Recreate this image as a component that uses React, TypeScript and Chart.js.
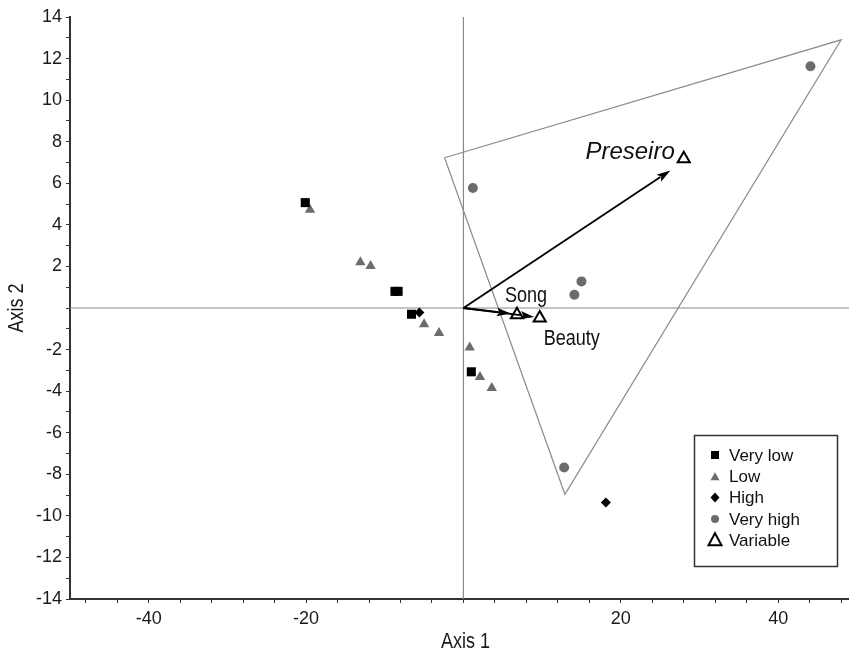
import React, { useEffect, useRef } from 'react';
import { Chart, registerables } from 'chart.js';

Chart.register(...registerables);

// ---------- data ----------
const seriesLabels = ['Very low', 'Low', 'High', 'Very high', 'Variable'];

const veryLowX = [-20.1, -8.7, -8.3, -6.6, 1.0];
const veryLowY = [5.07, 0.8, 0.8, -0.3, -3.07];

const lowX = [-19.5, -13.1, -11.8, -5.0, -3.1, 0.8, 2.1, 3.6];
const lowY = [4.73, 2.2, 2.02, -0.78, -1.2, -1.9, -3.32, -3.85];

const highX = [-5.6, 18.1];
const highY = [-0.22, -9.36];

const veryHighX = [1.2, 14.1, 15.0, 12.8, 44.1];
const veryHighY = [5.77, 0.64, 1.28, -7.67, 11.63];

const variableNames = ['Preseiro', 'Song', 'Beauty'];
const variableX = [28.0, 6.8, 9.7];
const variableY = [7.18, -0.32, -0.48];
const arrowTipX = [26.3, 6.0, 9.0];
const arrowTipY = [6.62, -0.27, -0.43];

const hullX = [-2.4, 48.0, 12.9, -2.4];
const hullY = [7.23, 12.9, -8.96, 7.23];

const xTitle = 'Axis 1';
const yTitle = 'Axis 2';

const xMin = -50;
const xMax = 49;
const yMin = -14;
const yMax = 14;

const xTickValues = [-48, -44, -40, -36, -32, -28, -24, -20, -16, -12, -8, -4, 0, 4, 8, 12, 16, 20, 24, 28, 32, 36, 40, 44, 48];
const xTickLabels = [-40, -20, 20, 40];
const yTickValues = [-14, -13, -12, -11, -10, -9, -8, -7, -6, -5, -4, -3, -2, -1, 0, 1, 2, 3, 4, 5, 6, 7, 8, 9, 10, 11, 12, 13, 14];
const yTickLabels = [14, 12, 10, 8, 6, 4, 2, -2, -4, -6, -8, -10, -12, -14];

// ---------- styles ----------
const SANS = "'Liberation Sans', Arial, sans-serif";
const GREY = '#6c6c6c';
const LINE_GREY = '#8a8a8a';
const NARROW_SCALE = 0.82;

const labelStyles = [
  { dx: -9, dy: -6, align: 'right', font: `italic 24px ${SANS}`, narrow: false },
  { dx: 9, dy: -19, align: 'center', font: `22px ${SANS}`, narrow: true },
  { dx: 32, dy: 21, align: 'center', font: `22px ${SANS}`, narrow: true },
];

const pts = (xs: number[], ys: number[]) => xs.map((x, i) => ({ x, y: ys[i] }));

function narrowText(ctx: CanvasRenderingContext2D, text: string, x: number, y: number, align: CanvasTextAlign, rot: number, narrow: boolean) {
  ctx.save();
  ctx.translate(x, y);
  if (rot) ctx.rotate(rot);
  if (narrow) ctx.scale(NARROW_SCALE, 1);
  ctx.textAlign = align;
  ctx.textBaseline = 'middle';
  ctx.fillText(text, 0, 0);
  ctx.restore();
}

const arrowPlugin = {
  id: 'arrowsAndLabels',
  afterDatasetsDraw(chart: any) {
    const { ctx, scales, chartArea } = chart;
    const sx = scales.x;
    const sy = scales.y;
    const ox = sx.getPixelForValue(0);
    const oy = sy.getPixelForValue(0);
    ctx.save();
    for (let i = 0; i < variableNames.length; i++) {
      const tx = sx.getPixelForValue(arrowTipX[i]);
      const ty = sy.getPixelForValue(arrowTipY[i]);
      const ang = Math.atan2(ty - oy, tx - ox);
      const len = 14;
      const hw = 4.2;
      const bx = tx - Math.cos(ang) * len;
      const by = ty - Math.sin(ang) * len;
      ctx.strokeStyle = '#000';
      ctx.lineWidth = 1.8;
      ctx.beginPath();
      ctx.moveTo(ox, oy);
      ctx.lineTo(bx + Math.cos(ang) * 2, by + Math.sin(ang) * 2);
      ctx.stroke();
      ctx.fillStyle = '#000';
      ctx.beginPath();
      ctx.moveTo(tx, ty);
      ctx.lineTo(bx - Math.sin(ang) * hw, by + Math.cos(ang) * hw);
      ctx.lineTo(bx + Math.cos(ang) * 3, by + Math.sin(ang) * 3);
      ctx.lineTo(bx + Math.sin(ang) * hw, by - Math.cos(ang) * hw);
      ctx.closePath();
      ctx.fill();
    }
    ctx.fillStyle = '#111';
    for (let i = 0; i < variableNames.length; i++) {
      const px = sx.getPixelForValue(variableX[i]);
      const py = sy.getPixelForValue(variableY[i]);
      const st = labelStyles[i];
      ctx.font = st.font;
      narrowText(ctx, variableNames[i], px + st.dx, py + st.dy, st.align as CanvasTextAlign, 0, st.narrow);
    }
    // axis titles
    ctx.font = `22px ${SANS}`;
    ctx.fillStyle = '#1a1a1a';
    narrowText(ctx, xTitle, (chartArea.left + chartArea.right) / 2 + 6, 642, 'center', 0, true);
    narrowText(ctx, yTitle, 17, (chartArea.top + chartArea.bottom) / 2, 'center', -Math.PI / 2, true);
    ctx.restore();
  },
};

function drawLegendMarker(ctx: CanvasRenderingContext2D, kind: number, x: number, y: number) {
  ctx.save();
  if (kind === 0) {
    ctx.fillStyle = '#000';
    ctx.fillRect(x - 4, y - 4, 8, 8);
  } else if (kind === 1) {
    ctx.fillStyle = GREY;
    ctx.beginPath();
    ctx.moveTo(x, y - 4);
    ctx.lineTo(x + 4.5, y + 4);
    ctx.lineTo(x - 4.5, y + 4);
    ctx.closePath();
    ctx.fill();
  } else if (kind === 2) {
    ctx.fillStyle = '#000';
    ctx.beginPath();
    ctx.moveTo(x, y - 5);
    ctx.lineTo(x + 4.5, y);
    ctx.lineTo(x, y + 5);
    ctx.lineTo(x - 4.5, y);
    ctx.closePath();
    ctx.fill();
  } else if (kind === 3) {
    ctx.fillStyle = GREY;
    ctx.beginPath();
    ctx.arc(x, y, 4, 0, Math.PI * 2);
    ctx.fill();
  } else {
    ctx.strokeStyle = '#000';
    ctx.fillStyle = '#fff';
    ctx.lineWidth = 2;
    ctx.beginPath();
    ctx.moveTo(x, y - 7);
    ctx.lineTo(x + 6.5, y + 5);
    ctx.lineTo(x - 6.5, y + 5);
    ctx.closePath();
    ctx.fill();
    ctx.stroke();
  }
  ctx.restore();
}

const legendPlugin = {
  id: 'boxLegend',
  afterDraw(chart: any) {
    const { ctx, chartArea } = chart;
    const w = 143;
    const h = 131;
    const x0 = chartArea.right - 12 - w;
    const y0 = chartArea.bottom - 33 - h;
    ctx.save();
    ctx.fillStyle = '#fff';
    ctx.fillRect(x0, y0, w, h);
    ctx.strokeStyle = '#333';
    ctx.lineWidth = 1.5;
    ctx.strokeRect(x0 + 0.5, y0 + 0.5, w, h);
    ctx.font = `17px ${SANS}`;
    ctx.fillStyle = '#111';
    ctx.textAlign = 'left';
    ctx.textBaseline = 'middle';
    seriesLabels.forEach((label, i) => {
      const cy = y0 + 20 + i * 21.3;
      drawLegendMarker(ctx, i, x0 + 21, cy);
      ctx.fillText(label, x0 + 35, cy + 1);
    });
    ctx.restore();
  },
};

export default function App() {
  const canvasRef = useRef<HTMLCanvasElement | null>(null);

  useEffect(() => {
    if (!canvasRef.current) return;
    const chart = new Chart(canvasRef.current, {
      type: 'scatter',
      data: {
        datasets: [
          {
            label: 'Variable',
            data: pts(variableX, variableY),
            pointStyle: 'triangle',
            pointRadius: 7,
            backgroundColor: '#fff',
            borderColor: '#000',
            borderWidth: 2,
          },
          {
            label: 'Very low',
            data: pts(veryLowX, veryLowY),
            pointStyle: 'rect',
            pointRadius: 6.4,
            backgroundColor: '#000',
            borderColor: '#000',
            borderWidth: 0,
          },
          {
            label: 'High',
            data: pts(highX, highY),
            pointStyle: 'rectRot',
            pointRadius: 5,
            backgroundColor: '#000',
            borderColor: '#000',
            borderWidth: 0,
          },
          {
            label: 'Low',
            data: pts(lowX, lowY),
            pointStyle: 'triangle',
            pointRadius: 6,
            backgroundColor: GREY,
            borderColor: GREY,
            borderWidth: 0,
          },
          {
            label: 'Very high',
            data: pts(veryHighX, veryHighY),
            pointStyle: 'circle',
            pointRadius: 5,
            backgroundColor: GREY,
            borderColor: GREY,
            borderWidth: 0,
          },
          {
            label: 'hull',
            data: pts(hullX, hullY),
            showLine: true,
            pointRadius: 0,
            borderColor: LINE_GREY,
            borderWidth: 1.2,
            fill: false,
          },
          {
            label: 'axis1',
            data: [{ x: xMin, y: 0 }, { x: xMax, y: 0 }],
            showLine: true,
            pointRadius: 0,
            borderColor: LINE_GREY,
            borderWidth: 1.2,
          },
          {
            label: 'axis2',
            data: [{ x: 0, y: yMin }, { x: 0, y: yMax }],
            showLine: true,
            pointRadius: 0,
            borderColor: LINE_GREY,
            borderWidth: 1.2,
          },
        ],
      },
      options: {
        animation: false,
        responsive: false,
        events: [],
        layout: { autoPadding: false, padding: { top: 17, right: 0, left: 0, bottom: 0 } },
        plugins: {
          legend: { display: false },
          tooltip: { enabled: false },
        },
        scales: {
          x: {
            type: 'linear',
            min: xMin,
            max: xMax,
            afterBuildTicks: (s: any) => {
              s.ticks = xTickValues.map((v) => ({ value: v }));
            },
            afterFit: (s: any) => {
              s.height = 56;
              s.paddingLeft = 0;
              s.paddingRight = 0;
            },
            ticks: {
              autoSkip: false,
              maxRotation: 0,
              padding: 5,
              color: '#1a1a1a',
              font: { family: SANS, size: 18 },
              callback: (v: any) => (xTickLabels.includes(Number(v)) ? String(v) : ''),
            },
            grid: { drawOnChartArea: false, drawTicks: true, tickLength: 4, color: '#333' },
            border: { display: true, color: '#333', width: 2 },
            title: { display: false },
          },
          y: {
            type: 'linear',
            min: yMin,
            max: yMax,
            afterBuildTicks: (s: any) => {
              s.ticks = yTickValues.map((v) => ({ value: v }));
            },
            afterFit: (s: any) => {
              s.width = 70;
              s.paddingTop = 0;
              s.paddingBottom = 0;
            },
            ticks: {
              autoSkip: false,
              padding: 4,
              color: '#1a1a1a',
              font: { family: SANS, size: 18 },
              callback: (v: any) => (yTickLabels.includes(Number(v)) ? String(v) : ''),
            },
            grid: { drawOnChartArea: false, drawTicks: true, tickLength: 4, color: '#333' },
            border: { display: true, color: '#333', width: 2 },
            title: { display: false },
          },
        },
      },
      plugins: [arrowPlugin, legendPlugin],
    } as any);
    return () => chart.destroy();
  }, []);

  return (
    <div style={{ position: 'absolute', left: 0, top: 0, width: 849, height: 655, background: '#fff' }}>
      <canvas ref={canvasRef} width={849} height={655} style={{ display: 'block' }} />
    </div>
  );
}
